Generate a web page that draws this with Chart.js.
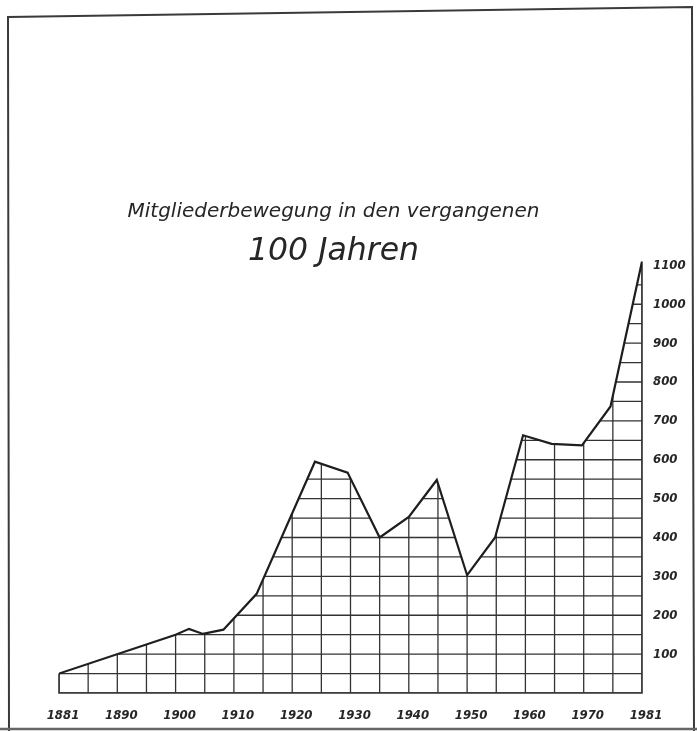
<!DOCTYPE html>
<html><head><meta charset="utf-8">
<script src="https://cdn.jsdelivr.net/npm/chart.js@4/dist/chart.umd.min.js"></script>
<style>html,body{margin:0;padding:0;background:#fff}canvas{display:block}</style>
</head><body>
<canvas id="c" width="697" height="731"></canvas>
<script>
const titleLine1 = 'Mitgliederbewegung in den vergangenen';
const titleLine2 = '100 Jahren';

// vertices of the membership line (year, members)
const years   = [1881, 1901, 1903.3, 1905.7, 1909.2, 1914.9, 1924.9, 1930.5, 1936, 1941, 1945.8, 1951, 1955.8, 1960.6, 1965.5, 1970.7, 1975.6, 1981];
const members = [50,   150,  165,    152,    163,    255,    595,    567,    400,  453,  548,    303,  400,    663,    641,    637,    737,    1110];

// grid columns and their labels
const xGridYears  = [1881,1886,1891,1896,1901,1906,1911,1916,1921,1926,1931,1936,1941,1946,1951,1956,1961,1966,1971,1976,1981];
const xTickLabels = ['1881','','1890','','1900','','1910','','1920','','1930','','1940','','1950','','1960','','1970','','1981'];
const yTickLabels = ['100','200','300','400','500','600','700','800','900','1000','1100'];

const FONT = 'DejaVu Sans';
const TICKFONT = 'DejaVu Sans Condensed';
const INK = '#262626';

const hatch = {
  id: 'hatch',
  beforeDatasetsDraw(chart) {
    const pts = chart.getDatasetMeta(0).data;
    const xs = chart.scales.x, ys = chart.scales.y;
    const base = ys.getPixelForValue(0);
    const first = pts[0], last = pts[pts.length - 1];
    const ctx = chart.ctx;
    ctx.save();
    ctx.beginPath();
    ctx.moveTo(first.x, base);
    pts.forEach(p => ctx.lineTo(p.x, p.y));
    ctx.lineTo(last.x, base);
    ctx.closePath();
    ctx.clip();
    ctx.strokeStyle = '#333';
    ctx.lineWidth = 1.3;
    ctx.beginPath();
    xs.ticks.forEach(t => { const x = xs.getPixelForValue(t.value); ctx.moveTo(x, chart.chartArea.top - 5); ctx.lineTo(x, base); });
    ys.ticks.forEach(t => { const y = ys.getPixelForValue(t.value); ctx.moveTo(chart.chartArea.left, y); ctx.lineTo(chart.chartArea.right, y); });
    ctx.stroke();
    ctx.restore();
    ctx.save();
    ctx.strokeStyle = '#333';
    ctx.lineWidth = 1.6;
    ctx.beginPath();
    ctx.moveTo(first.x, first.y);
    ctx.lineTo(first.x, base);
    ctx.lineTo(last.x, base);
    ctx.lineTo(last.x, last.y);
    ctx.stroke();
    ctx.restore();
  }
};

const frame = {
  id: 'frame',
  beforeDraw(chart) {
    const ctx = chart.ctx;
    ctx.save();
    ctx.fillStyle = '#fff';
    ctx.fillRect(0, 0, chart.width, chart.height);
    ctx.strokeStyle = '#3a3a3a';
    ctx.lineWidth = 2;
    ctx.beginPath();
    ctx.moveTo(9, 731); ctx.lineTo(8, 17); ctx.lineTo(692, 7); ctx.lineTo(694, 731);
    ctx.stroke();
    ctx.strokeStyle = '#666';
    ctx.lineWidth = 2.5;
    ctx.beginPath();
    ctx.moveTo(0, 729); ctx.lineTo(697, 729);
    ctx.stroke();
    ctx.restore();
  }
};

new Chart(document.getElementById('c'), {
  type: 'line',
  data: {
    datasets: [{
      data: years.map((y, i) => ({ x: y, y: members[i] })),
      xAxisID: 'x',
      yAxisID: 'y',
      borderColor: '#1e1e1e',
      borderWidth: 2.2,
      pointRadius: 0,
      fill: false,
      tension: 0
    }]
  },
  options: {
    responsive: false,
    animation: false,
    layout: { padding: { top: 0, left: -20, right: 10, bottom: 8.6 } },
    plugins: {
      legend: { display: false },
      tooltip: { enabled: false },
      title: {
        display: true, text: titleLine1, color: INK,
        font: { family: FONT, size: 20, style: 'italic', weight: 'normal', lineHeight: 1 },
        padding: { top: 202, bottom: 0 }
      },
      subtitle: {
        display: true, text: titleLine2, color: INK,
        font: { family: FONT, size: 31.5, style: 'italic', weight: 'normal', lineHeight: 0.6 },
        padding: { top: 20.6, bottom: 0 }
      }
    },
    scales: {
      x: {
        type: 'linear', position: 'bottom', min: 1881, max: 1981,
        afterBuildTicks: s => { s.ticks = xGridYears.map(v => ({ value: v })); },
        grid: { display: false, drawTicks: false },
        border: { display: false },
        ticks: {
          autoSkip: false, maxRotation: 0, minRotation: 0, labelOffset: 4, padding: 15,
          color: INK, font: { family: TICKFONT, size: 13, style: 'italic', weight: 'bold' },
          callback: (v, i) => xTickLabels[i]
        },
        afterFit: s => { s.height = 29.4; }
      },
      yLeft: {
        type: 'linear', position: 'left', display: true,
        grid: { display: false, drawTicks: false }, border: { display: false },
        ticks: { display: false },
        afterFit: s => { s.width = 79; }
      },
      y: {
        type: 'linear', position: 'right', min: 0, max: 1110,
        grid: { display: false, drawTicks: false }, border: { display: false },
        ticks: {
          stepSize: 50, includeBounds: false, autoSkip: false, padding: 11,
          color: INK, font: { family: TICKFONT, size: 13, style: 'italic', weight: 'bold' },
          callback: v => (v > 0 && v % 100 === 0) ? yTickLabels[v / 100 - 1] : ''
        },
        afterFit: s => { s.width = 45; }
      }
    }
  },
  plugins: [frame, hatch]
});
</script>
</body></html>
